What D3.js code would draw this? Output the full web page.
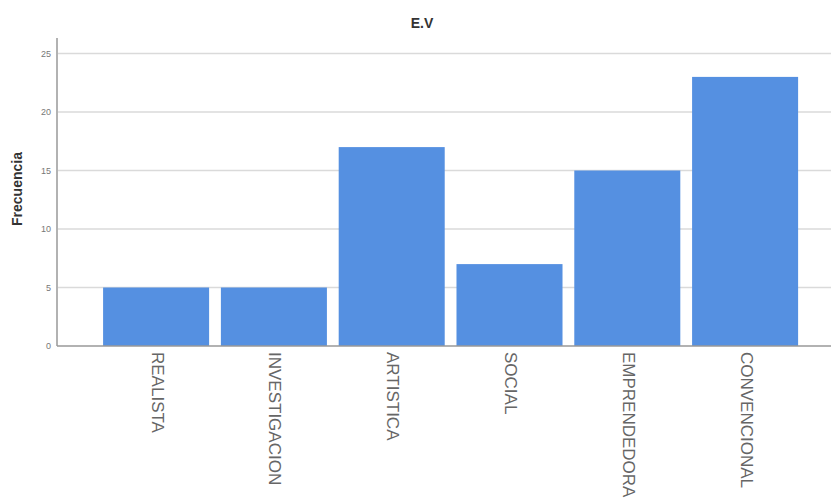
<!DOCTYPE html>
<html><head><meta charset="utf-8">
<script src="https://cdn.jsdelivr.net/npm/d3@7"></script>
<style>body{margin:0;background:#fff}svg{display:block}</style>
</head><body>
<script>
const categories = ["REALISTA","INVESTIGACION","ARTISTICA","SOCIAL","EMPRENDEDORA","CONVENCIONAL"];
const frequencies = [5,5,17,7,15,23];
const yTicks = [0,5,10,15,20,25];
const title = "E.V";
const yTitle = "Frecuencia";

const W = 831, H = 499;
const svg = d3.select("body").append("svg").attr("width", W).attr("height", H);

const x0 = 57, xEnd = 831, yBase = 346, yTop = 38;
const y = d3.scaleLinear().domain([0,25]).range([yBase, 53.5]);
const x = d3.scaleBand().domain(categories).range([97.2, 804]).paddingInner(0.1).paddingOuter(0.05);

// gridlines
svg.append("g").selectAll("line").data(yTicks.filter(d=>d>0)).join("line")
  .attr("x1", x0+1).attr("x2", xEnd).attr("y1", d=>y(d)).attr("y2", d=>y(d))
  .attr("stroke", "#dadada").attr("stroke-width", 1.5);

// bars
svg.append("g").selectAll("rect").data(categories).join("rect")
  .attr("x", d=>x(d)).attr("width", x.bandwidth())
  .attr("y", (d,i)=>y(frequencies[i])).attr("height", (d,i)=>yBase - y(frequencies[i]))
  .attr("fill", "#5590e1");

// y axis
const yAxis = d3.axisLeft(y).tickValues(yTicks).tickSize(0).tickPadding(6);
const gy = svg.append("g").attr("transform", `translate(${x0},0)`).call(yAxis);
gy.select(".domain").remove();
gy.selectAll("text").attr("font-family","Liberation Sans, Arial, sans-serif").attr("font-size", 9).attr("fill","#777");
svg.append("line").attr("x1", x0).attr("x2", x0).attr("y1", yTop).attr("y2", yBase)
  .attr("stroke", "#999").attr("stroke-width", 1.5);

// x axis
const xAxis = d3.axisBottom(x).tickSize(0).tickPadding(0);
const gx = svg.append("g").attr("transform", `translate(0,${yBase})`).call(xAxis);
gx.select(".domain").remove();
svg.append("line").attr("x1", x0).attr("x2", xEnd).attr("y1", yBase).attr("y2", yBase)
  .attr("stroke", "#999").attr("stroke-width", 1.5);
gx.selectAll("text")
  .attr("font-family","Liberation Sans, Arial, sans-serif").attr("font-size", 17).attr("fill","#666")
  .attr("text-anchor","start").attr("dy", null).attr("y", 0)
  .attr("dominant-baseline","middle")
  .attr("transform", "translate(0,6) rotate(90)");

// titles
svg.append("text").attr("x", 422).attr("y", 28).attr("text-anchor","middle")
  .attr("font-family","Liberation Sans, Arial, sans-serif").attr("font-weight","bold")
  .attr("font-size", 14).attr("fill","#333").text(title);
svg.append("text").attr("transform", "translate(22,189) rotate(-90)").attr("text-anchor","middle")
  .attr("font-family","Liberation Sans, Arial, sans-serif").attr("font-weight","bold")
  .attr("font-size", 14).attr("fill","#333").text(yTitle);
</script>
</body></html>
